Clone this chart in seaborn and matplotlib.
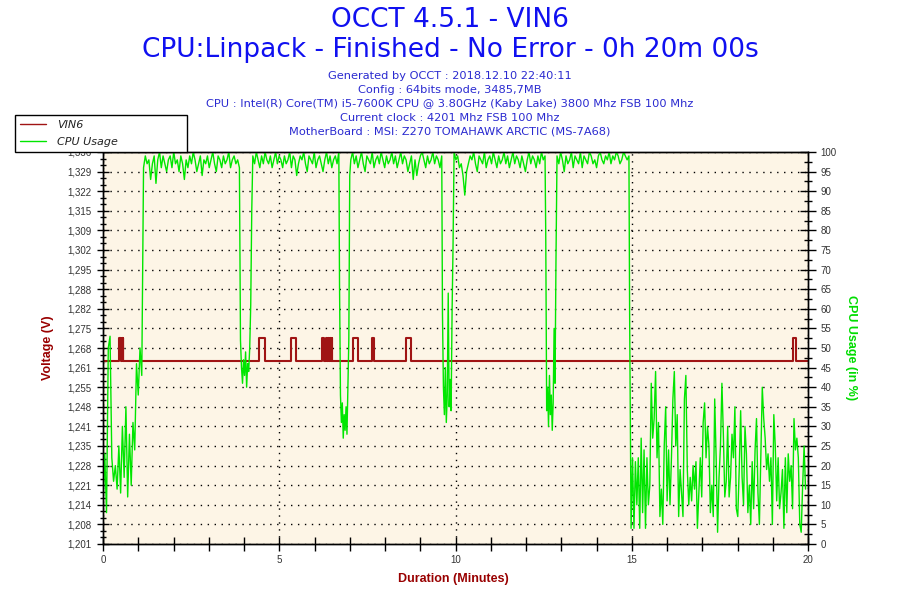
import numpy as np
import pandas as pd
import matplotlib
matplotlib.use("Agg")
import matplotlib.pyplot as plt
import seaborn as sns
from matplotlib.lines import Line2D
from matplotlib.ticker import FixedLocator, MultipleLocator, AutoMinorLocator, FixedFormatter

# ---------------- data ----------------
title_main = "OCCT 4.5.1 - VIN6"
title_sub = "CPU:Linpack - Finished - No Error - 0h 20m 00s"
info_lines = [
    "Generated by OCCT : 2018.12.10 22:40:11",
    "Config : 64bits mode, 3485,7MB",
    "CPU : Intel(R) Core(TM) i5-7600K CPU @ 3.80GHz (Kaby Lake) 3800 Mhz FSB 100 Mhz",
    "Current clock : 4201 Mhz FSB 100 Mhz",
    "MotherBoard : MSI: Z270 TOMAHAWK ARCTIC (MS-7A68)",
]

volt_tick_labels = ["1,201", "1,208", "1,214", "1,221", "1,228", "1,235", "1,241",
                    "1,248", "1,255", "1,261", "1,268", "1,275", "1,282", "1,288",
                    "1,295", "1,302", "1,309", "1,315", "1,322", "1,329", "1,336"]
volt_min, volt_max = 1.201, 1.336
x_tick_values = [0, 5, 10, 15, 20]
x_tick_labels = ["0", "5", "10", "15", "20"]

# VIN6 voltage (step changes), minutes / volts
vin6_minutes = [0.00, 0.45, 0.52, 0.53, 0.555, 0.565, 0.58, 4.43, 4.60, 5.33, 5.47,
                6.22, 6.28, 6.33, 6.36, 6.38, 6.42, 6.44, 6.47, 6.49, 6.51,
                7.08, 7.24, 7.64, 7.69, 8.59, 8.73, 19.58, 19.65, 20.00]
vin6_volts = [1.264, 1.272, 1.264, 1.272, 1.264, 1.272, 1.264, 1.272, 1.264, 1.272, 1.264,
              1.272, 1.264, 1.272, 1.264, 1.272, 1.264, 1.272, 1.264, 1.272, 1.264,
              1.272, 1.264, 1.272, 1.264, 1.272, 1.264, 1.272, 1.264, 1.264]

# CPU usage (%) segments: (start minute, end minute, values)
cpu_idle_start = [10, 23, 8, 50, 53, 22, 16, 20, 14, 25, 13, 30, 17, 35, 12, 28, 15, 31,
                  24, 46, 38, 50, 43]
cpu_load_1 = [96, 99, 97, 98, 93, 97, 99, 92, 98, 100, 96, 99, 97, 95, 98, 99, 96, 100,
              97, 98, 95, 99, 97, 93, 98, 96, 99, 97, 100, 98, 95, 97, 99, 94, 98, 97,
              99, 96, 98, 100, 97, 95, 99, 98, 96, 99, 97, 98, 100, 96, 98, 99, 97, 98, 96]
cpu_dip_1 = [52, 45, 41, 47, 43, 49, 40, 46, 44, 50, 61, 85]
cpu_load_2 = [99, 97, 100, 98, 96, 99, 97, 100, 98, 97, 99, 96, 98, 100, 97, 99, 98, 96,
              99, 97, 98, 100, 96, 99, 98, 94, 97, 99, 98, 100, 97, 95, 99, 98, 97, 100,
              96, 98, 99, 97, 95, 98, 100, 97, 99, 96, 98, 99, 97, 100]
cpu_dip_2 = [66, 38, 31, 36, 27, 33, 29, 35, 28, 40, 52, 94]
cpu_load_3 = [98, 100, 97, 99, 96, 98, 100, 97, 95, 99, 98, 97, 100, 96, 98, 99, 97, 100,
              98, 96, 99, 97, 98, 100, 97, 99, 96, 98, 100, 97, 99, 98, 95, 97, 99, 93,
              98, 94, 97, 99, 100, 98, 96, 99, 97, 98, 100, 97, 99, 98, 96, 99]
cpu_dip_3 = [59, 40, 33, 45, 31, 38, 64, 35, 42, 34, 59, 76]
cpu_load_4 = [100, 98, 99, 96, 97, 94, 89, 95, 97, 99, 98, 100, 97, 95, 99, 98, 97, 100,
              96, 98, 99, 97, 100, 98, 96, 99, 97, 98, 100, 97, 99, 96, 98, 100, 97, 99,
              98, 96, 99, 97, 95, 98, 100, 97, 99, 98, 96, 99, 97, 100, 98, 99]
cpu_dip_4 = [79, 34, 40, 30, 43, 33, 38, 29, 36, 55, 41, 72]
cpu_load_5 = [99, 97, 100, 98, 95, 99, 97, 98, 100, 96, 99, 98, 97, 100, 96, 99, 98, 97,
              100, 99, 97, 98, 96, 99, 100, 98, 97, 99, 98, 100, 97, 99, 98, 100, 99, 97,
              98, 100, 99, 98, 99]
cpu_idle_end = [58, 4, 22, 4, 21, 10, 22, 4, 27, 8, 24, 4, 22, 10, 15, 41, 27, 32, 44, 22,
                31, 7, 14, 5, 25, 35, 11, 24, 10, 22, 37, 44, 25, 33, 7, 19, 13, 7, 37, 43,
                19, 10, 17, 11, 20, 14, 21, 4, 13, 22, 12, 31, 36, 22, 30, 25, 8, 15, 7, 37,
                22, 3, 17, 25, 41, 28, 12,
                16, 30, 12, 17, 28, 22, 35, 9, 7, 19, 34, 17, 10, 30, 23, 8, 15, 5, 21, 9,
                24, 32, 13, 5, 22, 40, 32, 27, 19, 23, 16, 22, 5, 33, 25, 11, 22, 9, 13, 19,
                4, 22, 8, 23, 16, 20, 9, 32, 24, 27, 22, 5, 3, 15, 25, 14]

cpu_segments = [
    (0.00, 1.10, cpu_idle_start),
    (1.15, 3.87, cpu_load_1),
    (3.90, 4.22, cpu_dip_1),
    (4.25, 6.69, cpu_load_2),
    (6.71, 7.00, cpu_dip_2),
    (7.03, 9.61, cpu_load_3),
    (9.63, 9.93, cpu_dip_3),
    (9.96, 12.54, cpu_load_4),
    (12.56, 12.85, cpu_dip_4),
    (12.88, 14.92, cpu_load_5),
    (14.94, 19.93, cpu_idle_end),
]

cpu_t = np.concatenate([np.linspace(a, b, len(v)) for a, b, v in cpu_segments])
cpu_v = np.concatenate([np.asarray(v, float) for a, b, v in cpu_segments])
cpu_df = pd.DataFrame({"minutes": cpu_t, "cpu": cpu_v})
vin_df = pd.DataFrame({"minutes": vin6_minutes, "volts": vin6_volts})

# ---------------- style ----------------
sns.set_theme(style="white")
plt.rcParams['font.family'] = ['DejaVu Sans']

VOLT_COLOR = "#a01414"
CPU_COLOR = "#00e600"
TITLE_COLOR = "#1010f0"
INFO_COLOR = "#2a2ad0"
TICK_FONT = ['Liberation Sans', 'DejaVu Sans']

fig = plt.figure(figsize=(9, 6), dpi=100)
fig.patch.set_facecolor("white")
ax = fig.add_axes([103 / 900, 56 / 600, 705 / 900, 392 / 600])
ax.set_facecolor("#fdf5e6")
ax2 = ax.twinx()

sns.lineplot(data=vin_df, x="minutes", y="volts", ax=ax, color=VOLT_COLOR,
             linewidth=1.5, estimator=None, sort=False, drawstyle="steps-post",
             legend=False)
sns.lineplot(data=cpu_df, x="minutes", y="cpu", ax=ax2, color=CPU_COLOR,
             linewidth=1.0, estimator=None, sort=False, legend=False)

ax.set_xlim(0, 20)
ax.set_ylim(volt_min, volt_max)
ax2.set_ylim(0, 100)
ax.set_xlabel("")
ax.set_ylabel("")
ax2.set_ylabel("")

# ticks
volt_ticks = np.linspace(volt_min, volt_max, len(volt_tick_labels))
ax.yaxis.set_major_locator(FixedLocator(volt_ticks))
ax.yaxis.set_major_formatter(FixedFormatter(volt_tick_labels))
ax.yaxis.set_minor_locator(AutoMinorLocator(3))
ax.xaxis.set_major_locator(FixedLocator(x_tick_values))
ax.xaxis.set_major_formatter(FixedFormatter(x_tick_labels))
ax.xaxis.set_minor_locator(MultipleLocator(1))
ax2.yaxis.set_major_locator(MultipleLocator(5))
ax2.yaxis.set_minor_locator(MultipleLocator(2.5))

ax.tick_params(axis='y', which='major', direction='inout', length=9, width=1,
               color='black', pad=4, labelsize=7, labelcolor='#333333', left=True)
ax.tick_params(axis='y', which='minor', direction='inout', length=5, width=1,
               color='black', left=True)
ax.tick_params(axis='x', which='both', direction='inout', length=10, width=1,
               color='black', pad=3, labelsize=7, labelcolor='#333333', bottom=True)
ax2.tick_params(axis='y', which='major', direction='inout', length=12, width=1,
                color='black', pad=3, labelsize=7, labelcolor='#333333', right=True)
ax2.tick_params(axis='y', which='minor', direction='inout', length=6, width=1,
                color='black', right=True)
for lab in ax.get_yticklabels() + ax.get_xticklabels() + ax2.get_yticklabels():
    lab.set_fontfamily(TICK_FONT)

# grid
ax.set_axisbelow(True)
ax.grid(True, which='major', axis='both', color='black', linestyle=(0, (1, 4)),
        linewidth=1.0)
ax2.grid(False)

for a in (ax, ax2):
    for s in a.spines.values():
        s.set_color('black')
        s.set_linewidth(1.0)
        s.set_visible(True)

# titles
fig.text(0.5, 1 - 20 / 600, title_main, ha='center', va='center', fontsize=19,
         color=TITLE_COLOR)
fig.text(0.5, 1 - 50 / 600, title_sub, ha='center', va='center', fontsize=19,
         color=TITLE_COLOR)
for i, line in enumerate(info_lines):
    fig.text(0.5, 1 - (76 + 14 * i) / 600, line, ha='center', va='center',
             fontsize=8.2, color=INFO_COLOR)

# axis labels
fig.text(48 / 900, 1 - 348 / 600, "Voltage (V)", rotation=90, ha='center', va='center',
         fontsize=9, fontweight='bold', color="#990000", family=TICK_FONT)
fig.text(851 / 900, 1 - 348 / 600, "CPU Usage (in %)", rotation=270, ha='center',
         va='center', fontsize=9, fontweight='bold', color="#00dd00", family=TICK_FONT)
fig.text(453 / 900, 1 - 579 / 600, "Duration (Minutes)", ha='center', va='center',
         fontsize=9, fontweight='bold', color="#990000", family=TICK_FONT)

# legend
lh1 = Line2D([], [], color=VOLT_COLOR, linewidth=1.0)
lh2 = Line2D([], [], color=CPU_COLOR, linewidth=1.0)
leg = fig.legend(handles=[lh1, lh2], labels=["VIN6", "CPU Usage"], loc='upper left',
                 bbox_to_anchor=(15 / 900, 1 - 150 / 600, 172 / 900, 35 / 600),
                 mode='expand', frameon=True, fancybox=False, edgecolor='black',
                 facecolor='white', framealpha=1, borderaxespad=0,
                 prop={'style': 'italic', 'size': 8}, handlelength=2.3,
                 borderpad=0.45, labelspacing=0.6, handletextpad=1.0)
leg.get_frame().set_linewidth(1.0)
for t in leg.get_texts():
    t.set_color('#222222')

fig.savefig("out.png", dpi=100)
